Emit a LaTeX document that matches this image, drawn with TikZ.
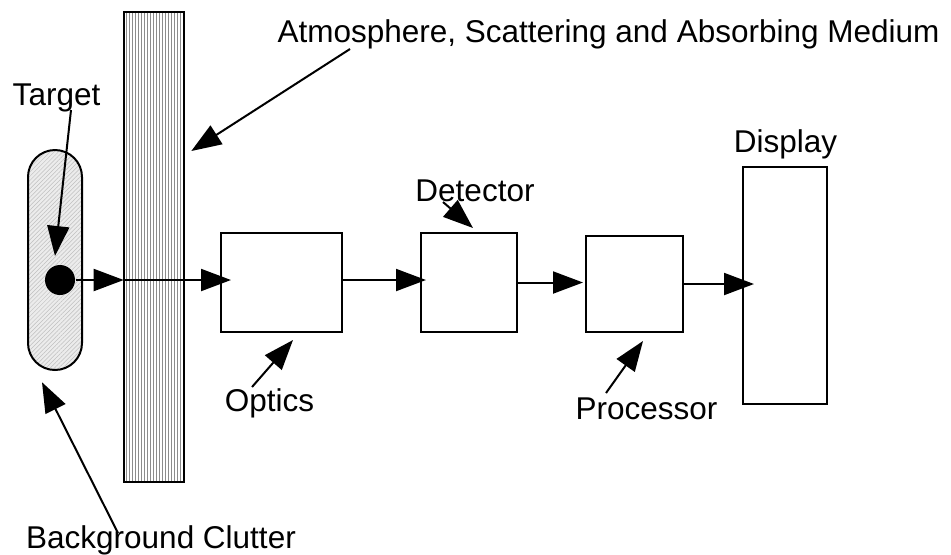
\documentclass[tikz,border=0pt]{standalone}
\usepackage{fontspec}
\setmainfont{Liberation Sans}
\usetikzlibrary{arrows.meta, calc, patterns.meta}

\begin{document}
\begin{tikzpicture}[>={Triangle[length=15pt,width=11pt]}, x=0.5pt, y=-0.5pt, line width=1pt,
    box/.style={draw, rectangle, inner sep=0pt},
    lbl/.style={anchor=base, inner sep=0pt, font=\fontsize{15.75}{19}\selectfont}]

      \useasboundingbox (0,0) rectangle (951,554);

      % medium, clutter and target
      \node[box, minimum width=30pt, minimum height=235pt,
            pattern={Lines[angle=90,distance=1.5pt,line width=0.3pt]}, pattern color=black!45] (medium) at (154,247) {};
      \node[box, minimum width=27pt, minimum height=110pt, rounded corners=13.5pt,
            preaction={fill=gray!15}, pattern={Lines[angle=45,distance=1.5pt,line width=0.25pt]}, pattern color=gray!50] (clutter) at (55,260) {};
      \node[circle, fill, inner sep=0pt, minimum size=15pt] (target) at (60,280) {};

      % system blocks
      \node[box, minimum width=60.5pt, minimum height=49.5pt] (optics) at (281.5,282.5) {};
      \node[box, minimum width=48pt, minimum height=49.5pt] (detector) at (469,282.5) {};
      \node[box, minimum width=48.5pt, minimum height=48pt] (processor) at (634.5,284) {};
      \node[box, minimum width=42pt, minimum height=118.5pt] (display) at (785,285.5) {};

      % labels
      \node[lbl] (lbltarget) at (56.5,105) {Target};
      \node[lbl] (lblmedium) at (608.5,42) {Atmosphere, Scattering and Absorbing Medium};
      \node[lbl] (lbldetector) at (475,201) {Detector};
      \node[lbl] (lbloptics) at (269.5,411) {Optics};
      \node[lbl] (lblprocessor) at (646.5,419) {Processor};
      \node[lbl] (lbldisplay) at (785.5,152) {Display};
      \node[lbl] (lblclutter) at (161,548) {Background Clutter};

      % signal path
      \draw[->] (target) -- (medium.west |- target);
      \draw[->] (medium.west |- target) -- ($(optics.west |- target)+(11,0)$);
      \draw[->] (optics.east |- target) -- ($(detector.west |- target)+(6,0)$);
      \draw[->] (detector.east) -- ($(processor.west |- detector.east)+(-2,0)$);
      \draw[->] (processor.east) -- ($(display.west |- processor.east)+(12,0)$);

      % pointers
      \draw[->] ([shift={(14.5,5)}]lbltarget.base) -- ([shift={(-5,-8)}]target.north);
      \draw[->] ([shift={(-258.5,7)}]lblmedium.base) -- ([shift={(7,-96)}]medium.east);
      \draw[->] ([shift={(-32,1)}]lbldetector.base) -- ([shift={(4,-4)}]detector.north);
      \draw[->] ([shift={(-17.5,-24)}]lbloptics.base) -- ([shift={(11.5,7)}]optics.south);
      \draw[->] ([shift={(-40.5,-26)}]lblprocessor.base) -- ([shift={(8.5,8)}]processor.south);
      \draw[->] ([shift={(-43,-15)}]lblclutter.base) -- ([shift={(-13,12)}]clutter.south);
\end{tikzpicture}
\end{document}
